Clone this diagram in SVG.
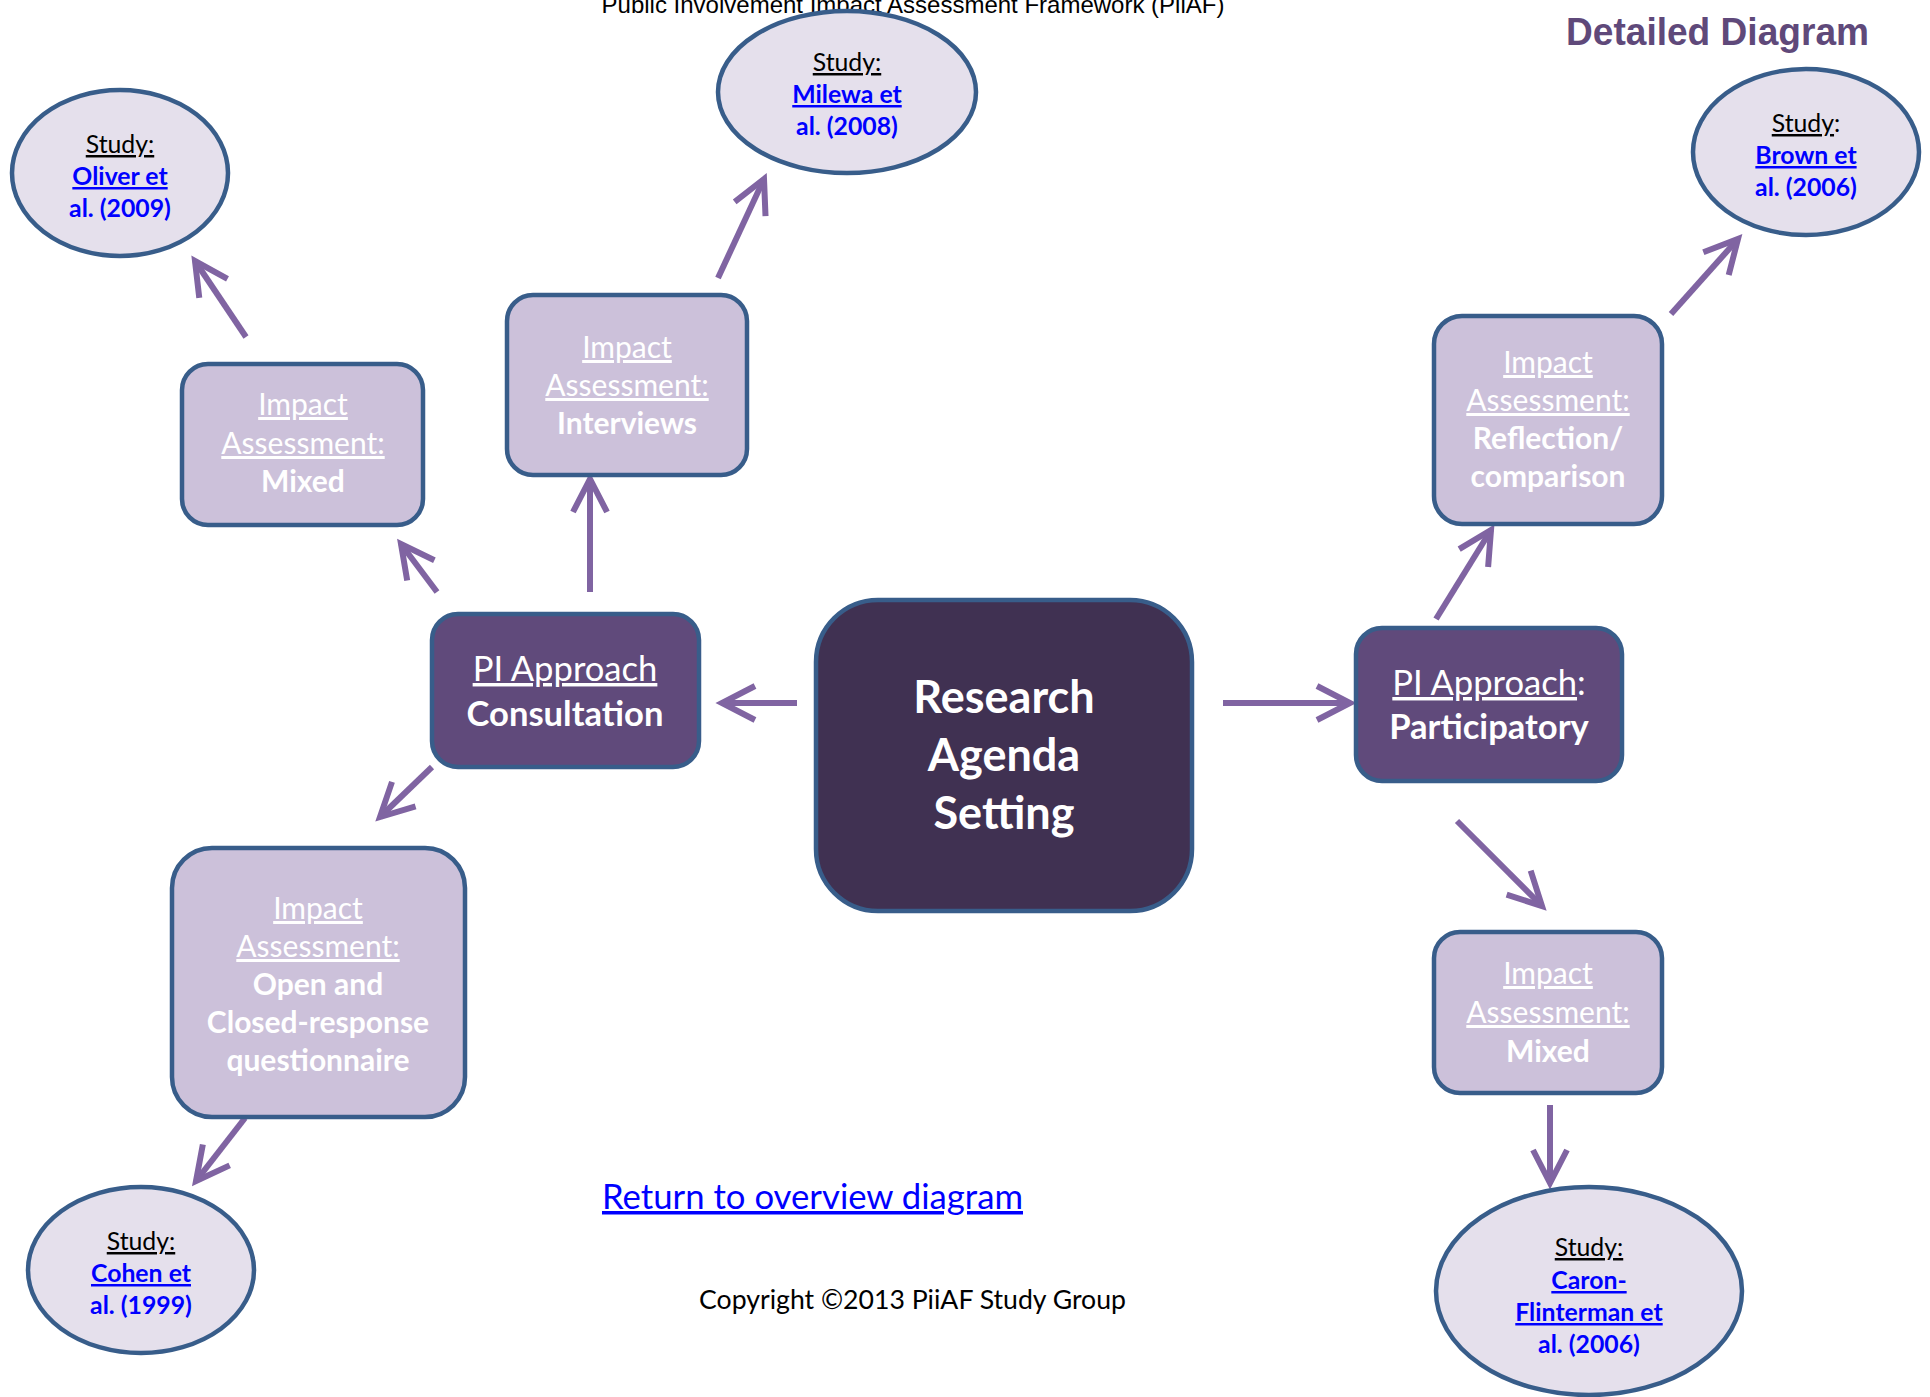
<svg xmlns="http://www.w3.org/2000/svg" width="1930" height="1397" viewBox="0 0 1930 1397">
<defs>
<style>
.arrow{fill:none;stroke:#8064a2;stroke-width:6;marker-end:url(#ah)}
.light{fill:#ccc1da;stroke:#385d8a;stroke-width:4.5}
.mid{fill:#604a7b;stroke:#385d8a;stroke-width:4.5}
.dark{fill:#403152;stroke:#385d8a;stroke-width:4.5}
.study{fill:#e5e0ec;stroke:#385d8a;stroke-width:4.5}
.t{font-family:Lato,"Open Sans",sans-serif;text-anchor:middle}
.s{font-size:24.8px;fill:#000}
.ia{font-size:30px;fill:#fff}
.pi{font-size:34.6px}
.w{fill:#fff}
.u{text-decoration:underline}
.b{font-weight:bold}
.blue{fill:#0000ff}
</style>
<marker id="ah" markerUnits="userSpaceOnUse" orient="auto" markerWidth="60" markerHeight="60" viewBox="-45 -30 60 60" refX="0" refY="0">
<path d="M-33,-17 L0,0 L-33,17" fill="none" stroke="#8064a2" stroke-width="6"/>
</marker>
</defs>
<rect width="1930" height="1397" fill="#fff"/>
<text x="913" y="13" font-family="Liberation Sans,Arial,sans-serif" font-size="24" text-anchor="middle" fill="#000">Public Involvement Impact Assessment Framework (PiiAF)</text>
<text x="1566" y="45" font-family="Liberation Sans,Arial,sans-serif" font-size="38" font-weight="bold" fill="#5f497a" textLength="303" lengthAdjust="spacingAndGlyphs">Detailed Diagram</text>

<g id="connectors">
<line class="arrow" x1="797" y1="703" x2="722" y2="703"/>
<line class="arrow" x1="1223" y1="703" x2="1350" y2="703"/>
<line class="arrow" x1="590" y1="592" x2="590" y2="479"/>
<line class="arrow" x1="437" y1="592" x2="401" y2="544"/>
<line class="arrow" x1="432" y1="767" x2="380" y2="817"/>
<line class="arrow" x1="246" y1="337" x2="195" y2="261"/>
<line class="arrow" x1="718" y1="278" x2="764" y2="179"/>
<line class="arrow" x1="245" y1="1118" x2="196" y2="1181"/>
<line class="arrow" x1="1436" y1="619" x2="1491" y2="530"/>
<line class="arrow" x1="1671" y1="314" x2="1738" y2="239"/>
<line class="arrow" x1="1457" y1="821" x2="1542" y2="906"/>
<line class="arrow" x1="1550" y1="1105" x2="1550" y2="1183"/>
</g>

<g id="study-oliver">
<ellipse class="study" cx="120" cy="173" rx="108" ry="83"/>
<text class="t s" x="120" y="153"><tspan class="u">Study:</tspan></text>
<text class="t s b blue" x="120" y="185"><tspan class="u">Oliver et</tspan></text>
<text class="t s b blue" x="120" y="217">al. (2009)</text>
</g>

<g id="study-milewa">
<ellipse class="study" cx="847" cy="92" rx="129" ry="81"/>
<text class="t s" x="847" y="71"><tspan class="u">Study:</tspan></text>
<text class="t s b blue" x="847" y="103"><tspan class="u">Milewa et</tspan></text>
<text class="t s b blue" x="847" y="135">al. (2008)</text>
</g>

<g id="study-brown">
<ellipse class="study" cx="1806" cy="152" rx="113" ry="83"/>
<text class="t s" x="1806" y="132"><tspan class="u">Study</tspan>:</text>
<text class="t s b blue" x="1806" y="164"><tspan class="u">Brown et</tspan></text>
<text class="t s b blue" x="1806" y="196">al. (2006)</text>
</g>

<g id="study-cohen">
<ellipse class="study" cx="141" cy="1270" rx="113" ry="83"/>
<text class="t s" x="141" y="1250"><tspan class="u">Study:</tspan></text>
<text class="t s b blue" x="141" y="1282"><tspan class="u">Cohen et</tspan></text>
<text class="t s b blue" x="141" y="1314">al. (1999)</text>
</g>

<g id="study-caron">
<ellipse class="study" cx="1589" cy="1291" rx="153" ry="104"/>
<text class="t s" x="1589" y="1256"><tspan class="u">Study:</tspan></text>
<text class="t s b blue" x="1589" y="1289"><tspan class="u">Caron-</tspan></text>
<text class="t s b blue" x="1589" y="1321"><tspan class="u">Flinterman et</tspan></text>
<text class="t s b blue" x="1589" y="1353">al. (2006)</text>
</g>

<g id="ia-mixed-left">
<rect class="light" x="182" y="364" width="241" height="161" rx="26"/>
<text class="t ia" x="303" y="415"><tspan class="u">Impact</tspan></text>
<text class="t ia" x="303" y="454"><tspan class="u">Assessment:</tspan></text>
<text class="t ia b" x="303" y="492">Mixed</text>
</g>

<g id="ia-interviews">
<rect class="light" x="507" y="295" width="240" height="180" rx="26"/>
<text class="t ia" x="627" y="358"><tspan class="u">Impact</tspan></text>
<text class="t ia" x="627" y="396"><tspan class="u">Assessment:</tspan></text>
<text class="t ia b" x="627" y="434">Interviews</text>
</g>

<g id="pi-consultation">
<rect class="mid" x="432" y="614" width="267" height="153" rx="26"/>
<text class="t w pi" x="565" y="681"><tspan class="u">PI Approach</tspan></text>
<text class="t w b pi" x="565" y="726">Consultation</text>
</g>

<g id="research-agenda">
<rect class="dark" x="816" y="600" width="376" height="311" rx="62"/>
<text class="t w b" x="1004" y="713" font-size="45">Research</text>
<text class="t w b" x="1004" y="771" font-size="45">Agenda</text>
<text class="t w b" x="1004" y="829" font-size="45">Setting</text>
</g>

<g id="pi-participatory">
<rect class="mid" x="1356" y="628" width="266" height="153" rx="26"/>
<text class="t w pi" x="1489" y="695"><tspan class="u">PI Approach</tspan>:</text>
<text class="t w b pi" x="1489" y="739">Participatory</text>
</g>

<g id="ia-reflection">
<rect class="light" x="1434" y="316" width="228" height="208" rx="28"/>
<text class="t ia" x="1548" y="373"><tspan class="u">Impact</tspan></text>
<text class="t ia" x="1548" y="411"><tspan class="u">Assessment:</tspan></text>
<text class="t ia b" x="1548" y="449">Reflection/</text>
<text class="t ia b" x="1548" y="487">comparison</text>
</g>

<g id="ia-mixed-right">
<rect class="light" x="1434" y="932" width="228" height="161" rx="26"/>
<text class="t ia" x="1548" y="984"><tspan class="u">Impact</tspan></text>
<text class="t ia" x="1548" y="1023"><tspan class="u">Assessment:</tspan></text>
<text class="t ia b" x="1548" y="1062">Mixed</text>
</g>

<g id="ia-questionnaire">
<rect class="light" x="172" y="848" width="293" height="269" rx="40"/>
<text class="t ia" x="318" y="919"><tspan class="u">Impact</tspan></text>
<text class="t ia" x="318" y="957"><tspan class="u">Assessment:</tspan></text>
<text class="t ia b" x="318" y="995">Open and</text>
<text class="t ia b" x="318" y="1033">Closed-response</text>
<text class="t ia b" x="318" y="1071">questionnaire</text>
</g>

<g id="return-link">
<text x="602" y="1209" font-family="Lato,'Open Sans',sans-serif" font-size="35" fill="#0000ff" text-decoration="underline" textLength="421" lengthAdjust="spacingAndGlyphs">Return to overview diagram</text>
</g>
<g id="copyright">
<text x="699" y="1309" font-family="Lato,'Open Sans',sans-serif" font-size="27.5" fill="#000" textLength="427" lengthAdjust="spacingAndGlyphs">Copyright ©2013 PiiAF Study Group</text>
</g>
</svg>
